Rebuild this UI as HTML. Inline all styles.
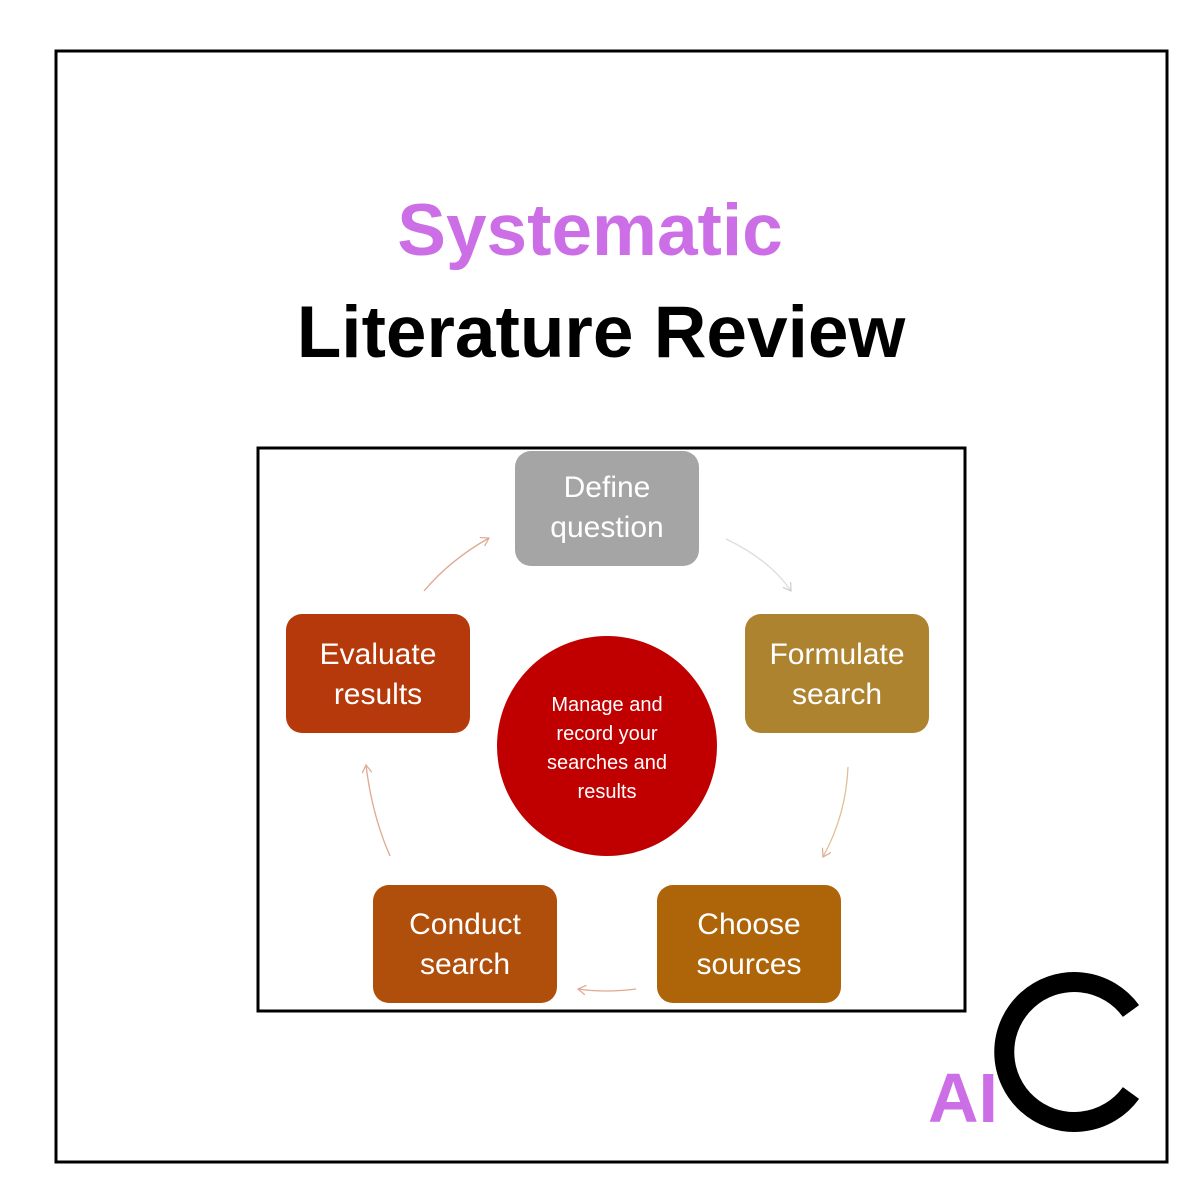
<!DOCTYPE html>
<html><head><meta charset="utf-8"><style>
html,body{margin:0;padding:0;background:#fff;}
svg{display:block;}
</style></head><body>
<svg width="1200" height="1200" viewBox="0 0 1200 1200" xmlns="http://www.w3.org/2000/svg">
<rect x="56" y="51" width="1111" height="1111" fill="#fff" stroke="#000" stroke-width="3"/>
<text x="590" y="255" text-anchor="middle" font-family="Liberation Sans, sans-serif" font-weight="bold" font-size="73" fill="#cc6ee6">Systematic</text>
<text x="601" y="357" text-anchor="middle" font-family="Liberation Sans, sans-serif" font-weight="bold" font-size="73" fill="#000">Literature Review</text>
<rect x="258" y="448" width="707" height="563" fill="#fff" stroke="#000" stroke-width="3"/>
<defs><marker id="a" markerWidth="10" markerHeight="10" refX="8" refY="5" orient="auto" markerUnits="userSpaceOnUse"><path d="M0,0 L8,5 L0,10" fill="none" stroke="#e0a890" stroke-width="1.2"/></marker>
<marker id="g" markerWidth="10" markerHeight="10" refX="8" refY="5" orient="auto" markerUnits="userSpaceOnUse"><path d="M0,0 L8,5 L0,10" fill="none" stroke="#ccc" stroke-width="1.2"/></marker></defs>
<g fill="none" stroke-width="1.3">
<path d="M424,591 Q450,560 489,538" stroke="#e0a890" marker-end="url(#a)"/>
<path d="M726,539 Q770,560 791,591" stroke="#ddd" marker-end="url(#g)"/>
<path d="M848,767 Q846,815 823,857" stroke="#e0c090" marker-end="url(#a)"/>
<path d="M636,989 Q605,993 578,989" stroke="#e0a890" marker-end="url(#a)"/>
<path d="M390,856 Q372,815 366,765" stroke="#e0a890" marker-end="url(#a)"/>
</g>
<g font-family="Liberation Sans, sans-serif" font-size="30" fill="#fff" text-anchor="middle">
<rect x="515" y="451" width="184" height="115" rx="16" fill="#a5a5a5"/>
<text x="607" y="497">Define</text><text x="607" y="537">question</text>
<rect x="745" y="614" width="184" height="119" rx="16" fill="#ae8330"/>
<text x="837" y="664">Formulate</text><text x="837" y="704">search</text>
<rect x="657" y="885" width="184" height="118" rx="16" fill="#ae650a"/>
<text x="749" y="934">Choose</text><text x="749" y="974">sources</text>
<rect x="373" y="885" width="184" height="118" rx="16" fill="#b04e0b"/>
<text x="465" y="934">Conduct</text><text x="465" y="974">search</text>
<rect x="286" y="614" width="184" height="119" rx="16" fill="#b5390a"/>
<text x="378" y="664">Evaluate</text><text x="378" y="704">results</text>
<circle cx="607" cy="746" r="110" fill="#c00000"/>
<g font-size="20"><text x="607" y="711">Manage and</text><text x="607" y="740">record your</text><text x="607" y="769">searches and</text><text x="607" y="798">results</text></g>
</g>
<text x="928" y="1122" font-family="Liberation Sans, sans-serif" font-weight="bold" font-size="70" fill="#cc6ee6">AI</text>
<path d="M1131,1011 A70,70 0 1 0 1131,1093" fill="none" stroke="#000" stroke-width="20"/>
</svg>
</body></html>
